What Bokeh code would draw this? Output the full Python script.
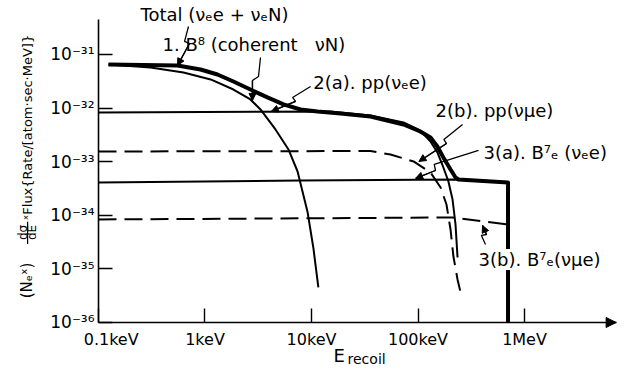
import math
from bokeh.plotting import figure
from bokeh.models import FixedTicker, Label, Arrow, NormalHead
from bokeh.embed import file_html
from bokeh.resources import INLINE

# ---------------- data (recoil energy in keV, rate per atom.sec.MeV) ----------------
b8_E = [0.124, 0.308, 0.628, 1.13, 1.85, 2.67, 3.32, 4.59, 6.08, 7.40, 9.16, 10.4, 11.6]
b8_F = [6.50e-32, 5.71e-32, 4.61e-32, 3.42e-32, 2.22e-32, 1.45e-32, 9.42e-33, 3.99e-33, 1.69e-33,
        6.56e-34, 1.18e-34, 2.51e-35, 4.50e-36]

pp_e_E = [0.1, 15.1, 35.8, 73.1, 105, 131, 152, 173, 193, 211, 225, 235]
pp_e_F = [8.3e-33, 8.6e-33, 7.28e-33, 5.38e-33, 3.82e-33, 2.38e-33, 1.49e-33, 7.80e-34, 4.28e-34,
          1.97e-34, 6.73e-35, 1.63e-35]

pp_mu_E = [0.1, 35.8, 55.2, 90.8, 131, 163, 185, 202, 215, 235, 251]
pp_mu_F = [1.55e-33, 1.58e-33, 1.36e-33, 1.01e-33, 6.30e-34, 3.30e-34, 1.59e-34, 5.43e-35, 1.70e-35,
           6.34e-36, 3.63e-36]

be7_e_E = [0.1, 7.89, 240, 700, 700]
be7_e_F = [4.09e-34, 4.46e-34, 4.66e-34, 4.09e-34, 1e-36]

be7_mu_E = [0.1, 211, 700, 700]
be7_mu_F = [8.36e-35, 9.10e-35, 6.73e-35, 1e-36]

total_E = [0.124, 0.552, 0.908, 1.31, 1.85, 2.67, 3.86, 5.46, 7.89, 11.4, 18.7, 35.8, 73.1, 105, 131,
           152, 173, 202, 225, 240, 700, 700]
total_F = [6.50e-32, 6.24e-32, 5.25e-32, 4.23e-32, 3.13e-32, 2.22e-32, 1.58e-32, 1.17e-32, 9.42e-33,
           8.65e-33, 7.93e-33, 6.97e-33, 4.94e-33, 3.66e-33, 2.82e-33, 1.92e-33, 1.20e-33, 7.14e-34,
           5.07e-34, 4.66e-34, 4.09e-34, 1e-36]

x_ticks = [0.1, 1, 10, 100, 1000]
x_tick_labels = ["\u00a0" * 5 + "0.1keV", "1keV", "10keV", "100keV", "1MeV"]
y_ticks = [1e-36, 1e-35, 1e-34, 1e-33, 1e-32, 1e-31]
y_tick_labels = ["10\u207b\u00b3\u2076", "10\u207b\u00b3\u2075", "10\u207b\u00b3\u2074",
                 "10\u207b\u00b3\u00b3", "10\u207b\u00b3\u00b2", "10\u207b\u00b3\u00b9"]

FONT = "DejaVu Sans"

# axes extents (data units)
E_MIN, E_AXIS_END = 0.1, 10 ** 3.86
F_MIN, F_AXIS_TOP = 1e-36, 10 ** -30.347

p = figure(x_axis_type="log", y_axis_type="log",
           width=617, height=369,
           x_range=(10 ** -1.920, 10 ** 3.873), y_range=(10 ** -36.877, 10 ** -29.993),
           min_border=0, output_backend="svg", toolbar_location=None)
p.outline_line_color = None
p.grid.visible = False
p.background_fill_color = "white"

for ax in (p.xaxis[0], p.yaxis[0]):
    ax.axis_line_color = "black"
    ax.axis_line_width = 1.6
    ax.major_tick_line_color = "black"
    ax.major_tick_line_width = 1.4
    ax.major_tick_in = 14
    ax.major_tick_out = 0
    ax.minor_tick_line_color = None
    ax.major_label_text_font = FONT
    ax.major_label_text_color = "black"

p.xaxis.fixed_location = F_MIN
p.xaxis.bounds = (E_MIN, E_AXIS_END)
p.xaxis.ticker = FixedTicker(ticks=x_ticks)
p.xaxis.major_label_overrides = {t: s for t, s in zip(x_ticks, x_tick_labels)}
p.xaxis.major_label_text_font_size = "16px"
p.xaxis.major_label_standoff = 8

p.yaxis.fixed_location = E_MIN
p.yaxis.bounds = (F_MIN, F_AXIS_TOP)
p.yaxis.ticker = FixedTicker(ticks=y_ticks)
p.yaxis.major_label_overrides = {t: s for t, s in zip(y_ticks, y_tick_labels)}
p.yaxis.major_label_text_font_size = "17px"
p.yaxis.major_label_standoff = 4

# axis arrow head
p.add_layout(Arrow(x_start=10 ** 3.80, y_start=F_MIN, x_end=E_AXIS_END, y_end=F_MIN,
                   line_width=1.6, line_color="black",
                   end=NormalHead(size=10, fill_color="black", line_color="black")))

# ---------------- curves ----------------
DASH = "18 8"
p.line(b8_E, b8_F, line_width=2, color="black")
p.line(pp_e_E, pp_e_F, line_width=2, color="black")
p.line(pp_mu_E, pp_mu_F, line_width=2, color="black", line_dash=DASH)
p.line(be7_e_E, be7_e_F, line_width=2, color="black")
p.line(be7_mu_E, be7_mu_F, line_width=2, color="black", line_dash=DASH)
p.line(total_E, total_F, line_width=4, color="black", line_join="round")

# ---------------- annotations ----------------
def pointer(xs, ys):
    p.line(xs, ys, line_width=1.3, color="black")
    p.add_layout(Arrow(x_start=xs[-2], y_start=ys[-2], x_end=xs[-1], y_end=ys[-1],
                       line_width=1.3, line_color="black",
                       end=NormalHead(size=7, fill_color="black", line_color="black")))

def label(x, y, text, size="18px", bg=None, align="left", **kw):
    lab = Label(x=x, y=y, text=text, text_font=FONT, text_font_size=size,
                text_baseline="middle", text_align=align, text_color="black", **kw)
    if bg:
        lab.background_fill_color = bg
    p.add_layout(lab)

NB = "\u00a0"
label(0.248, 5.57e-31, "Total (\u03bd\u2091e + \u03bd\u2091N)")
pointer([0.700, 0.643, 0.715, 0.552], [3.33e-31, 1.75e-31, 1.60e-31, 6.24e-32])

label(0.399, 1.54e-31, "1." + NB + "B\u2078" + NB + "(coherent" + NB * 3 + "\u03bdN)")
pointer([3.32, 3.18, 2.79, 2.79], [8.79e-32, 3.89e-32, 3.27e-32, 1.39e-32])

label(10.4, 3.0e-32, "2(a). pp(\u03bd\u2091e)")
pointer([9.8, 6.64, 7.08, 4.2], [2.53e-32, 1.58e-32, 1.33e-32, 8.65e-33])

label(146, 9.0e-33, "2(b). pp(\u03bd\u03bce)")
pointer([262, 175, 185, 102], [4.94e-33, 2.59e-33, 2.19e-33, 1.01e-33])

label(412, 1.49e-33, "3(a). B\u2077\u2091 (\u03bd\u2091e)")
pointer([370, 142, 146, 95], [1.62e-33, 8.87e-34, 6.85e-34, 4.9e-34])

label(370, 1.50e-35, "3(b). B\u2077\u2091(\u03bd\u03bce)", bg="white")
pointer([430, 394, 440, 404], [2.85e-35, 4.20e-35, 4.38e-35, 6.45e-35])

# x-axis title  E_recoil
label(16.1, 10 ** -36.62, "E", size="18px")
label(21.8, 10 ** -36.69, "recoil", size="14px")

# y-axis title (rotated pieces)
rot = math.pi / 2
label(0.0215, 10 ** -35.55, "(N\u2091\u02e3)", size="15px", angle=rot)
label(0.0196, 4.78e-35, "d\u03c3", size="12px", align="center", angle=rot)
label(0.0238, 4.78e-35, "dE", size="12px", align="center", angle=rot)
p.add_layout(Arrow(x_start=0.0216, y_start=7.6e-35, x_end=0.0216, y_end=2.9e-35,
                   line_width=1.2, line_color="black", end=None))
label(0.0215, 8.0e-35, "\u02e3Flux{Rate/[atom\u00b7sec\u00b7MeV]}", size="13px", angle=rot)

open("out.html", "w").write(file_html(p, INLINE))
